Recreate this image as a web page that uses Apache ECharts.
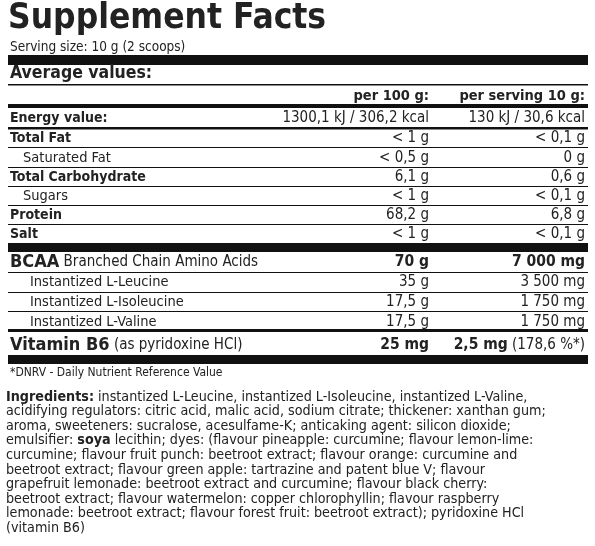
<!DOCTYPE html>
<html>
<head>
<meta charset="utf-8">
<script src="https://cdn.jsdelivr.net/npm/echarts@6/dist/echarts.min.js"></script>
<style>html,body{margin:0;padding:0;background:#fff}#chart{width:595px;height:546px}</style>
</head>
<body>
<div id="chart"></div>
<script>
var titleText = 'Supplement Facts';
var servingText = 'Serving size: 10 g (2 scoops)';
var colHeaders = ['per 100 g:', 'per serving 10 g:'];
var rowLabels = ['Energy value:', 'Total Fat', 'Saturated Fat', 'Total Carbohydrate', 'Sugars', 'Protein', 'Salt',
    'BCAA', 'Instantized L-Leucine', 'Instantized L-Isoleucine', 'Instantized L-Valine', 'Vitamin B6'];
var rowNotes = ['', '', '', '', '', '', '', 'Branched Chain Amino Acids', '', '', '', '(as pyridoxine HCl)'];
var per100 = ['1300,1 kJ / 306,2 kcal', '< 1 g', '< 0,5 g', '6,1 g', '< 1 g', '68,2 g', '< 1 g', '70 g', '35 g', '17,5 g', '17,5 g', '25 mg'];
var perServing = ['130 kJ / 30,6 kcal', '< 0,1 g', '0 g', '0,6 g', '< 0,1 g', '6,8 g', '< 0,1 g', '7 000 mg', '3 500 mg', '1 750 mg', '1 750 mg', '2,5 mg'];
var servingNotes = ['', '', '', '', '', '', '', '', '', '', '', '(178,6 %*)'];
var footnote = '*DNRV - Daily Nutrient Reference Value';
var ingredientLines = [
    '{b|Ingredients:} instantized L-Leucine, instantized L-Isoleucine, instantized L-Valine,',
    'acidifying regulators: citric acid, malic acid, sodium citrate; thickener: xanthan gum;',
    'aroma, sweeteners: sucralose, acesulfame-K; anticaking agent: silicon dioxide;',
    'emulsifier: {b|soya} lecithin; dyes: (flavour pineapple: curcumine; flavour lemon-lime:',
    'curcumine; flavour fruit punch: beetroot extract; flavour orange: curcumine and',
    'beetroot extract; flavour green apple: tartrazine and patent blue V; flavour',
    'grapefruit lemonade: beetroot extract and curcumine; flavour black cherry:',
    'beetroot extract; flavour watermelon: copper chlorophyllin; flavour raspberry',
    'lemonade: beetroot extract; flavour forest fruit: beetroot extract); pyridoxine HCl',
    '(vitamin B6)'
];

// layout
var FONT = '"Liberation Sans Narrow", "DejaVu Sans Condensed", sans-serif';
var L = 8, R = 588, C1 = 429, C2 = 585;
var rowY = [118, 138, 158, 177, 196, 215, 234, 262, 282, 302, 322, 345];
var kinds = ['bold', 'bold', 'sub', 'bold', 'sub', 'bold', 'bold', 'big', 'sub2', 'sub2', 'sub2', 'big'];
var rules = [[55, 10], [84, 1.5], [104, 4], [127, 2.5], [147, 1], [167, 1], [186, 1], [205, 1], [224, 1],
    [243, 9], [272, 1], [292, 1], [311, 1], [329, 3], [355, 9]];

var els = [];
function txt(x, y, s, o) {
    els.push({
        type: 'text', x: x, y: y,
        style: Object.assign({text: s, fontFamily: FONT, fontSize: 14, fill: '#222', verticalAlign: 'middle'}, o || {})
    });
}
rules.forEach(function (r) {
    els.push({type: 'rect', shape: {x: L, y: r[0], width: R - L, height: r[1]}, style: {fill: '#111'}});
});
txt(L, 19, titleText, {fontSize: 35, fontWeight: 'bold', fill: '#222'});
txt(L + 2, 47, servingText, {fontSize: 13.5});
txt(L + 2, 73, 'Average values:', {fontSize: 17.5, fontWeight: 'bold'});
txt(C1, 96, colHeaders[0], {fontWeight: 'bold', align: 'right', fontSize: 14.5});
txt(C2, 96, colHeaders[1], {fontWeight: 'bold', align: 'right', fontSize: 14.5});

rowLabels.forEach(function (lab, i) {
    var k = kinds[i], y = rowY[i];
    var big = k === 'big';
    var x = k === 'sub' ? L + 15 : (k === 'sub2' ? L + 22 : L + 2);
    var sub = k === 'sub' || k === 'sub2';
    var rich = {
        a: {fontFamily: FONT, fontSize: big ? 18 : (sub ? 14.5 : 14), fontWeight: sub ? 'normal' : 'bold', fill: '#222'},
        n: {fontFamily: FONT, fontSize: 15, fill: '#222'}
    };
    txt(x, y, '{a|' + lab + '}' + (rowNotes[i] ? '{n| ' + rowNotes[i] + '}' : ''), {rich: rich});
    var vw = big ? 'bold' : 'normal', vs = big ? 15.5 : 15;
    txt(C1, y, per100[i], {align: 'right', fontWeight: vw, fontSize: vs});
    if (servingNotes[i]) {
        txt(C2, y, '{v|' + perServing[i] + '}{n| ' + servingNotes[i] + '}', {
            align: 'right', rich: {v: {fontFamily: FONT, fontSize: 15.5, fontWeight: 'bold', fill: '#222'}, n: {fontFamily: FONT, fontSize: 15, fill: '#222'}}
        });
    } else {
        txt(C2, y, perServing[i], {align: 'right', fontWeight: vw, fontSize: vs});
    }
});
txt(L + 2, 373, footnote, {fontSize: 12});
ingredientLines.forEach(function (line, i) {
    txt(L - 2, 397 + i * 14.6, line, {
        fontSize: 14.2,
        rich: {b: {fontFamily: FONT, fontSize: 14.2, fontWeight: 'bold', fill: '#222'}}
    });
});

var chart = echarts.init(document.getElementById('chart'));
chart.setOption({animation: false, graphic: {elements: els}});
</script>
</body>
</html>
